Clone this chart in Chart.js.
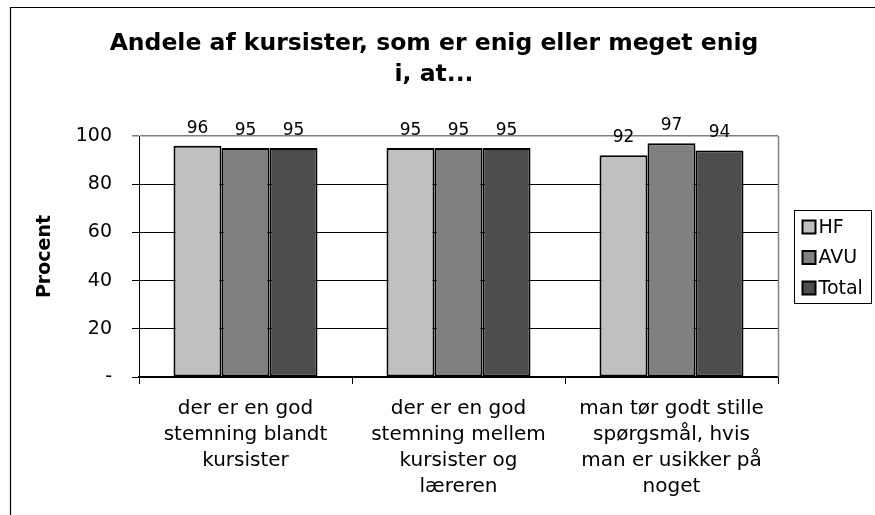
<!DOCTYPE html>
<html>
<head>
<meta charset="utf-8">
<script src="https://cdn.jsdelivr.net/npm/chart.js@4/dist/chart.umd.min.js"></script>
<style>
  html, body { margin: 0; padding: 0; background: #ffffff; }
  #wrap { width: 875px; height: 515px; position: relative; }
</style>
</head>
<body>
<div id="wrap"><canvas id="c" width="875" height="515"></canvas></div>
<script>
const categories = [
  ['der er en god', 'stemning blandt', 'kursister'],
  ['der er en god', 'stemning mellem', 'kursister og', 'læreren'],
  ['man tør godt stille', 'spørgsmål, hvis', 'man er usikker på', 'noget']
];
const seriesNames = ['HF', 'AVU', 'Total'];
const hfValues = [96, 95, 92];
const avuValues = [95, 95, 97];
const totalValues = [95, 95, 94];
const yTickValues = [0, 20, 40, 60, 80, 100];
const titleLines = ['Andele af kursister, som er enig eller meget enig', 'i, at...'];
const yTitle = 'Procent';

const FONT = "'DejaVu Sans', Verdana, sans-serif";
const colors = ['#c0c0c0', '#808080', '#4d4d4d'];

const framePlugin = {
  id: 'frame',
  beforeDraw(chart) {
    const ctx = chart.ctx;
    ctx.save();
    ctx.fillStyle = '#ffffff';
    ctx.fillRect(0, 0, chart.width, chart.height);
    ctx.strokeStyle = '#000000';
    ctx.lineWidth = 1.2;
    ctx.beginPath();
    ctx.moveTo(10.5, chart.height);
    ctx.lineTo(10.5, 7.5);
    ctx.lineTo(chart.width, 7.5);
    ctx.stroke();
    ctx.restore();
  },
  afterDraw(chart) {
    const ctx = chart.ctx;
    const a = chart.chartArea;
    ctx.save();
    // right border of plot area
    ctx.strokeStyle = '#808080';
    ctx.lineWidth = 1.5;
    ctx.beginPath();
    ctx.moveTo(a.right + 0.5, a.top);
    ctx.lineTo(a.right + 0.5, a.bottom);
    ctx.stroke();
    // legend
    const ds = chart.data.datasets;
    const boxL = a.right + 16.5;
    const boxW = 77, boxH = 93;
    const boxT = Math.round((a.top + a.bottom) / 2 - boxH / 2) + 0.5;
    ctx.strokeStyle = '#000000';
    ctx.lineWidth = 1;
    ctx.strokeRect(boxL, boxT, boxW, boxH);
    ctx.font = '19px ' + FONT;
    ctx.textBaseline = 'middle';
    ctx.textAlign = 'left';
    ds.forEach((d, i) => {
      const cy = boxT + 16.5 + i * 30.5;
      ctx.fillStyle = d.backgroundColor;
      ctx.fillRect(boxL + 8, cy - 6.5, 13, 13);
      ctx.strokeStyle = '#000000';
      ctx.lineWidth = 2;
      ctx.strokeRect(boxL + 8, cy - 6.5, 13, 13);
      ctx.fillStyle = '#000000';
      ctx.fillText(d.label, boxL + 24, cy + 1);
    });
    ctx.restore();
  },
  afterDatasetsDraw(chart) {
    const ctx = chart.ctx;
    ctx.save();
    ctx.font = '17px ' + FONT;
    ctx.fillStyle = '#000000';
    ctx.textAlign = 'center';
    ctx.textBaseline = 'alphabetic';
    chart.data.datasets.forEach((d, di) => {
      const meta = chart.getDatasetMeta(di);
      meta.data.forEach((bar, i) => {
        ctx.fillText(String(d.data[i]), bar.x, bar.y - 13);
      });
    });
    ctx.restore();
  }
};

new Chart(document.getElementById('c'), {
  type: 'bar',
  data: {
    labels: categories,
    datasets: [
      { label: seriesNames[0], data: hfValues, backgroundColor: colors[0] },
      { label: seriesNames[1], data: avuValues, backgroundColor: colors[1] },
      { label: seriesNames[2], data: totalValues, backgroundColor: colors[2] }
    ].map(d => Object.assign(d, {
      borderColor: '#000000',
      borderWidth: 2,
      borderSkipped: false,
      categoryPercentage: 0.676,
      barPercentage: 1.0,
      yAxisID: 'y'
    }))
  },
  options: {
    responsive: false,
    animation: false,
    devicePixelRatio: 1,
    layout: { padding: { left: 0, right: 7, top: 0, bottom: 0 } },
    plugins: {
      legend: { display: false },
      tooltip: { enabled: false },
      title: {
        display: true,
        text: titleLines,
        color: '#000000',
        font: { family: FONT, size: 23.5, weight: 'bold', lineHeight: 31 / 23.5 },
        padding: { top: 28, bottom: 46 }
      }
    },
    scales: {
      x: {
        offset: true,
        grid: {
          display: true,
          offset: true,
          drawOnChartArea: false,
          drawTicks: true,
          tickLength: 7,
          color: '#000000',
          lineWidth: 1
        },
        border: { display: true, color: '#000000', width: 2 },
        ticks: {
          color: '#000000',
          font: { family: FONT, size: 20, lineHeight: 26 / 20 },
          padding: 12,
          maxRotation: 0,
          autoSkip: false
        },
        afterFit(scale) { scale.height = 138; }
      },
      y: {
        min: 0,
        max: 100,
        afterBuildTicks(scale) { scale.ticks = yTickValues.map(v => ({ value: v })); },
        grid: {
          color: (c) => (c.tick && c.tick.value === 100) ? '#808080' : '#000000',
          lineWidth: (c) => (c.tick && c.tick.value === 100) ? 1.5 : 1,
          tickLength: 7
        },
        border: { display: true, color: '#000000', width: 1 },
        ticks: {
          color: '#000000',
          font: { family: FONT, size: 19 },
          padding: 20,
          callback: (v) => v === 0 ? '-' : String(v)
        },
        title: {
          display: true,
          text: yTitle,
          color: '#000000',
          font: { family: FONT, size: 19, weight: 'bold' },
          padding: { top: 34, bottom: 0 }
        },
        afterFit(scale) { scale.width = 139; }
      },
      spacer: {
        position: 'right',
        display: true,
        min: 0,
        max: 100,
        grid: { display: false, drawOnChartArea: false, drawTicks: false },
        border: { display: false },
        ticks: { display: false },
        afterFit(scale) { scale.width = 90; }
      }
    }
  },
  plugins: [framePlugin]
});
</script>
</body>
</html>
